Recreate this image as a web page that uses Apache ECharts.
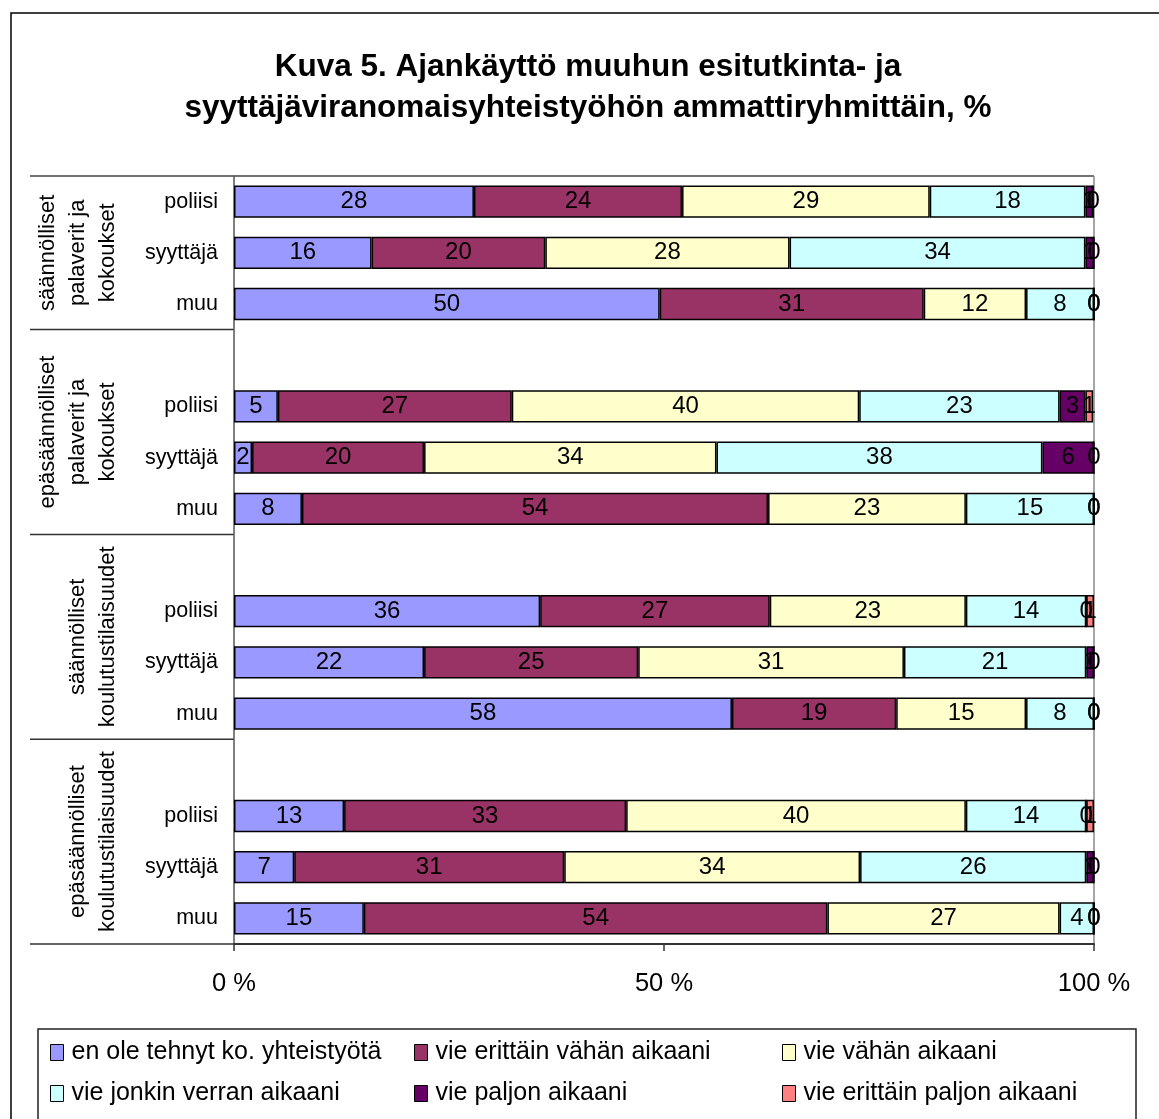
<!DOCTYPE html>
<html>
<head>
<meta charset="utf-8">
<script src="https://cdn.jsdelivr.net/npm/echarts@6/dist/echarts.min.js"></script>
<style>
html,body{margin:0;padding:0;background:#fff;}
#chart{width:1159px;height:1119px;}
</style>
</head>
<body>
<div id="chart"></div>
<script>
// ---- Data ----
const titleText = 'Kuva 5. Ajankäyttö muuhun esitutkinta- ja\nsyyttäjäviranomaisyhteistyöhön ammattiryhmittäin, %';
const groups = [
  'säännölliset\npalaverit ja\nkokoukset',
  'epäsäännölliset\npalaverit ja\nkokoukset',
  'säännölliset\nkoulutustilaisuudet',
  'epäsäännölliset\nkoulutustilaisuudet'
];
const roles = ['poliisi', 'syyttäjä', 'muu'];
const seriesNames = [
  'en ole tehnyt ko. yhteistyötä',
  'vie erittäin vähän aikaani',
  'vie vähän aikaani',
  'vie jonkin verran aikaani',
  'vie paljon aikaani',
  'vie erittäin paljon aikaani'
];
const colors = ['#9999FF', '#993366', '#FFFFCC', '#CCFFFF', '#660066', '#FF8080'];
// values per group: poliisi, syyttäjä, muu (4 groups)
const enOle        = [27.9, 16.0, 49.5,  5.1, 2.1, 7.9,  35.6, 22.1, 57.9,  12.8, 7.0, 15.1];
const erittainVah  = [24.2, 20.2, 30.7,  27.2, 20.0, 54.2,  26.7, 24.9, 19.1,  32.8, 31.4, 53.9];
const vahan        = [28.8, 28.4, 11.9,  40.4, 34.0, 23.0,  22.8, 30.9, 15.1,  39.5, 34.4, 27.0];
const jonkin       = [18.1, 34.4, 7.9,   23.3, 37.9, 14.9,  14.0, 21.2, 7.9,   14.0, 26.3, 4.0];
const paljon       = [0.9, 1.0, 0,       3.0, 6.0, 0,       0, 0.9, 0,         0, 0.9, 0];
const erittainPal  = [0, 0, 0,           0.9, 0, 0,         0.9, 0, 0,         0.9, 0, 0];
const xTicks = [0, 50, 100];

const FONT = "'Liberation Sans', Arial, sans-serif";

// ---- Build category slots (blank slot before each group except the first) ----
const catKeys = [];
const groupSlots = [];
groups.forEach((g, gi) => {
  if (gi > 0) catKeys.push('blank' + gi);
  const start = catKeys.length;
  roles.forEach((r) => catKeys.push(gi + '|' + r));
  groupSlots.push([gi === 0 ? start : start - 1, catKeys.length - 1]);
});
function expand(vals) {
  const out = [];
  groups.forEach((g, gi) => {
    if (gi > 0) out.push('-');
    roles.forEach((r, ri) => out.push(vals[gi * roles.length + ri]));
  });
  return out;
}
const allVals = [enOle, erittainVah, vahan, jonkin, paljon, erittainPal];

const chart = echarts.init(document.getElementById('chart'));

const series = allVals.map((vals, i) => ({
  name: seriesNames[i],
  type: 'bar',
  stack: 'total',
  clip: false,
  barCategoryGap: '37%',
  data: expand(vals),
  itemStyle: { color: colors[i], borderColor: '#000', borderWidth: 1.5 },
  label: {
    show: true,
    position: 'inside',
    color: '#000',
    fontFamily: FONT,
    fontSize: 24,
    formatter: p => String(Math.round(p.value))
  },
  emphasis: { disabled: true },
  animation: false
}));

const legendCols = [[0, 3], [1, 4], [2, 5]];
const legendLefts = [50, 414, 782];
const legends = legendCols.map((cols, ci) => ({
  orient: 'vertical',
  left: legendLefts[ci],
  top: 1040,
  padding: 0,
  itemGap: 16,
  itemWidth: 13,
  itemHeight: 16,
  icon: 'rect',
  selectedMode: false,
  itemStyle: { borderColor: '#000', borderWidth: 1 },
  textStyle: { fontFamily: FONT, fontSize: 25, color: '#000', padding: [0, 0, 0, 3] },
  data: cols.map(c => seriesNames[c])
}));

const option = {
  animation: false,
  textStyle: { fontFamily: FONT },
  title: {
    text: titleText,
    left: 588,
    textAlign: 'center',
    top: 47,
    padding: 0,
    textStyle: { fontFamily: FONT, fontSize: 31.5, fontWeight: 'bold', color: '#000', lineHeight: 41 }
  },
  legend: legends,
  grid: { left: 234, top: 176, width: 860, height: 768, containLabel: false },
  xAxis: {
    type: 'value',
    min: 0, max: 100, interval: 50,
    axisLine: { show: true, lineStyle: { color: '#333', width: 2 } },
    axisTick: { show: true, length: 7, lineStyle: { color: '#333', width: 1.5 } },
    splitLine: { show: false },
    axisLabel: { formatter: '{value} %', fontFamily: FONT, fontSize: 25.5, color: '#000', margin: 27 }
  },
  yAxis: {
    type: 'category',
    inverse: true,
    data: catKeys,
    axisLine: { show: true, lineStyle: { color: '#555', width: 1.5 } },
    axisTick: { show: false },
    axisLabel: {
      fontFamily: FONT, fontSize: 21.5, color: '#000', margin: 16,
      formatter: v => v.indexOf('|') >= 0 ? v.split('|')[1] : ''
    }
  },
  series: series
};
chart.setOption(option);

// ---- Decorations: group separators, group labels, plot border, frames ----
const p0 = chart.convertToPixel({ yAxisIndex: 0 }, catKeys[0]);
const p1 = chart.convertToPixel({ yAxisIndex: 0 }, catKeys[1]);
const band = p1 - p0;
const xLeft = chart.convertToPixel({ xAxisIndex: 0 }, 0);
const xRight = chart.convertToPixel({ xAxisIndex: 0 }, 100);
const topY = p0 - band / 2;
const bottomY = chart.convertToPixel({ yAxisIndex: 0 }, catKeys[catKeys.length - 1]) + band / 2;

const graphics = [];
graphics.push({ type: 'rect', shape: { x: 11, y: 13, width: 1300, height: 1300 }, style: { fill: 'none', stroke: '#000', lineWidth: 1.5 }, silent: true, z: -1 });
graphics.push({ type: 'rect', shape: { x: 38, y: 1029, width: 1098, height: 200 }, style: { fill: 'none', stroke: '#222', lineWidth: 1.5 }, silent: true });
graphics.push({ type: 'line', shape: { x1: 30, y1: topY, x2: xRight, y2: topY }, style: { stroke: '#444', lineWidth: 1.5 }, silent: true });
graphics.push({ type: 'line', shape: { x1: xRight, y1: topY, x2: xRight, y2: bottomY }, style: { stroke: '#888', lineWidth: 1.5 }, silent: true });
groupSlots.forEach((gs, gi) => {
  const yStart = gi === 0 ? topY : chart.convertToPixel({ yAxisIndex: 0 }, catKeys[gs[0]]) - band / 2;
  const yEnd = chart.convertToPixel({ yAxisIndex: 0 }, catKeys[gs[1]]) + band / 2;
  graphics.push({ type: 'line', shape: { x1: 30, y1: yEnd, x2: xLeft, y2: yEnd }, style: { stroke: '#333', lineWidth: 1.5 }, silent: true });
  const nLines = groups[gi].split('\n').length;
  const cx = 108 - (nLines - 1) * 15;
  graphics.push({
    type: 'text',
    x: cx, y: (yStart + yEnd) / 2,
    rotation: Math.PI / 2,
    silent: true,
    style: {
      text: groups[gi],
      font: '22px ' + FONT,
      fill: '#000',
      align: 'center',
      verticalAlign: 'middle',
      lineHeight: 30
    }
  });
});
chart.setOption({ graphic: graphics });
</script>
</body>
</html>
